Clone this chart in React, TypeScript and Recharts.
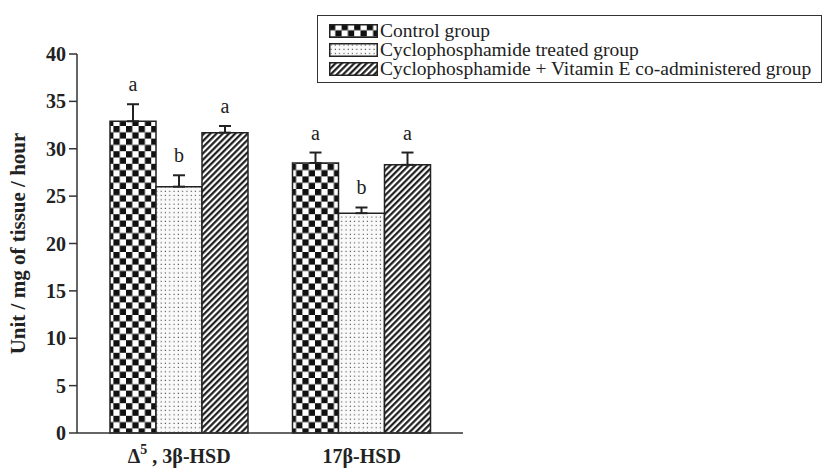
import React from 'react';
import { BarChart, Bar, XAxis, YAxis, ErrorBar, LabelList, Legend } from 'recharts';

const categories = ['Δ5 , 3β-HSD', '17β-HSD'];
const controlValues = [32.9, 28.5];
const controlErrors = [1.8, 1.1];
const cpValues = [26.0, 23.2];
const cpErrors = [1.2, 0.6];
const vitEValues = [31.7, 28.3];
const vitEErrors = [0.7, 1.3];
const controlLetters = ['a', 'a'];
const cpLetters = ['b', 'b'];
const vitELetters = ['a', 'a'];
const yTicks = [0, 5, 10, 15, 20, 25, 30, 35, 40];

const seriesInfo = [
  { key: 'control', name: 'Control group', fill: 'url(#checker)', letters: controlLetters, errors: controlErrors, values: controlValues },
  { key: 'cp', name: 'Cyclophosphamide treated group', fill: 'url(#dots)', letters: cpLetters, errors: cpErrors, values: cpValues },
  { key: 'vitE', name: 'Cyclophosphamide + Vitamin E co-administered group', fill: 'url(#hatch)', letters: vitELetters, errors: vitEErrors, values: vitEValues },
];

const data = categories.map((c, i) => ({
  name: c,
  control: controlValues[i],
  controlErr: [0, controlErrors[i]],
  cp: cpValues[i],
  cpErr: [0, cpErrors[i]],
  vitE: vitEValues[i],
  vitEErr: [0, vitEErrors[i]],
}));

const serif = '"Liberation Serif", "Times New Roman", serif';

const Patterns = () => (
  <svg width="0" height="0" style={{ position: 'absolute' }}>
    <defs>
      <pattern id="checker" width="12.6" height="12.6" patternUnits="userSpaceOnUse">
        <rect width="12.6" height="12.6" fill="#fff" />
        <rect width="6.3" height="6.3" fill="#111" />
        <rect x="6.3" y="6.3" width="6.3" height="6.3" fill="#111" />
      </pattern>
      <pattern id="dots" width="4.3" height="4.3" patternUnits="userSpaceOnUse">
        <rect width="4.3" height="4.3" fill="#fafafa" />
        <rect x="1.5" y="1.5" width="1.1" height="1.1" fill="#444" />
      </pattern>
      <pattern id="hatch" width="4.4" height="4.4" patternUnits="userSpaceOnUse" patternTransform="rotate(45)">
        <rect width="4.4" height="4.4" fill="#fff" />
        <line x1="1.2" y1="0" x2="1.2" y2="4.4" stroke="#111" strokeWidth="2.1" />
      </pattern>
    </defs>
  </svg>
);

const makeLetterLabel = (s: typeof seriesInfo[number]) => (props: any) => {
  const { x, y, width, height, index } = props;
  const v = s.values[index];
  const pxPerUnit = height / v;
  const errTop = y - s.errors[index] * pxPerUnit;
  return (
    <text
      x={x + width / 2}
      y={errTop - 13}
      textAnchor="middle"
      fontFamily={serif}
      fontSize={20}
      fill="#222"
    >
      {s.letters[index]}
    </text>
  );
};

const XTick = (props: any) => {
  const { x, y, payload } = props;
  const label: string = payload.value;
  const bold = { fontFamily: serif, fontSize: 20, fontWeight: 700, fill: '#222' };
  if (label.startsWith('Δ5')) {
    return (
      <text x={x} y={y + 22} textAnchor="middle" {...bold}>
        <tspan>Δ</tspan>
        <tspan dy={-9} fontSize={14}>5</tspan>
        <tspan dy={9}>{label.slice(2)}</tspan>
      </text>
    );
  }
  return (
    <text x={x} y={y + 22} textAnchor="middle" {...bold}>
      {label}
    </text>
  );
};

const LegendBox = () => (
  <div
    style={{
      border: '1.5px solid #333',
      padding: '5px 10px 4px 11px',
      fontFamily: serif,
      fontSize: 19.5,
      lineHeight: '19.5px',
      color: '#222',
      background: '#fff',
      whiteSpace: 'nowrap',
    }}
  >
    {seriesInfo.map(s => (
      <div key={s.key} style={{ display: 'flex', alignItems: 'center', height: 19 }}>
        <svg width={49} height={14} style={{ marginRight: 2, flex: 'none' }}>
          <rect x={0.75} y={0.75} width={47.5} height={12.5} fill={s.fill} stroke="#222" strokeWidth={1.5} />
        </svg>
        <span>{s.name}</span>
      </div>
    ))}
  </div>
);

export default function App() {
  return (
    <div style={{ position: 'absolute', left: 0, top: 0, width: 826, height: 468, background: '#fff' }}>
      <Patterns />
      <BarChart
        width={826}
        height={468}
        data={data}
        margin={{ top: 54, right: 363, bottom: 0, left: 0 }}
        barSize={46}
        barGap={0}
      >
        <XAxis
          dataKey="name"
          height={35}
          padding={{ left: 11, right: 10 }}
          tickLine={false}
          axisLine={{ stroke: '#333', strokeWidth: 1.5 }}
          tick={<XTick />}
          interval={0}
        />
        <YAxis
          width={77}
          domain={[0, 40]}
          ticks={yTicks}
          interval={0}
          tickSize={8}
          tickMargin={3}
          axisLine={{ stroke: '#333', strokeWidth: 1.5 }}
          tickLine={{ stroke: '#333', strokeWidth: 1.5 }}
          tick={{ fontFamily: serif, fontSize: 20, fontWeight: 700, fill: '#222' }}
          label={{
            value: 'Unit / mg of tissue / hour',
            angle: -90,
            position: 'insideLeft',
            offset: 18,
            style: { fontFamily: serif, fontSize: 21, fontWeight: 700, fill: '#222', textAnchor: 'middle' },
          }}
        />
        <Legend
          layout="horizontal"
          verticalAlign="middle"
          align="center"
          content={<LegendBox />}
          wrapperStyle={{ position: 'absolute', top: 15, left: 317, width: 'auto' }}
        />
        {seriesInfo.map(s => (
          <Bar
            key={s.key}
            dataKey={s.key}
            name={s.name}
            fill={s.fill}
            stroke="#222"
            strokeWidth={1.5}
            isAnimationActive={false}
          >
            <ErrorBar dataKey={`${s.key}Err`} width={6} stroke="#222" strokeWidth={2} direction="y" />
            <LabelList content={makeLetterLabel(s)} />
          </Bar>
        ))}
      </BarChart>
    </div>
  );
}
